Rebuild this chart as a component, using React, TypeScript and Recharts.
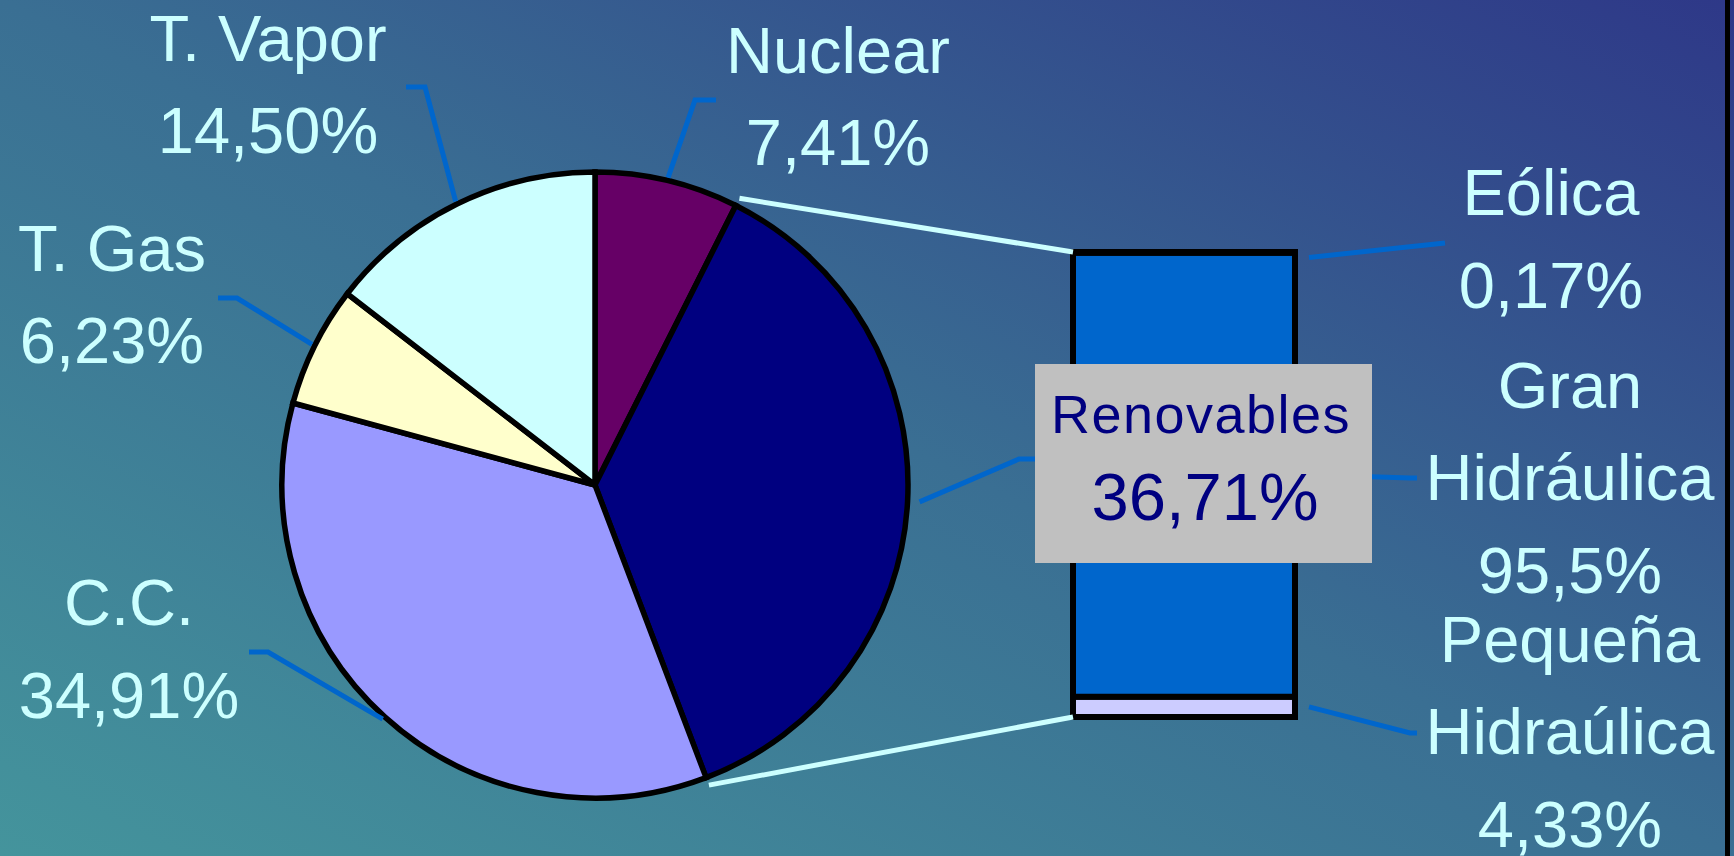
import React from 'react';
import { PieChart, Pie, Cell, BarChart, Bar, XAxis, YAxis, LabelList } from 'recharts';

const W = 1734;
const H = 856;

// pie: generation mix
const pieNames = ['Nuclear', 'Renovables', 'C.C.', 'T. Gas', 'T. Vapor'];
const pieValues = [7.41, 36.71, 34.91, 6.23, 14.5];
const pieLabels = ['7,41%', '36,71%', '34,91%', '6,23%', '14,50%'];
const pieColors = ['#660066', '#000080', '#9999FF', '#FFFFCC', '#CCFFFF'];

// bar: breakdown of renewables (bottom to top)
const barKeys = ['peq', 'gran', 'eol'];
const barNames = [['Pequeña', 'Hidraúlica'], ['Gran', 'Hidráulica'], ['Eólica']];
const barValues = [4.33, 95.5, 0.17];
const barLabels = ['4,33%', '95,5%', '0,17%'];
const barColors = ['#CCCCFF', '#0066CC', '#99CCFF'];

const pieData = pieNames.map((name, i) => ({ name, value: pieValues[i] }));
const barRow: Record<string, number | string> = { name: 'Renovables' };
barKeys.forEach((k, i) => { barRow[k] = barValues[i]; });
const barData = [barRow];

// layout
const CX = 595;
const CY = 485;
const R = 313;
const BAR = { left: 1073, top: 252, width: 222, height: 465 };

const FONT = '"Liberation Sans", Arial, sans-serif';
const TXT = '#CCFFFF';
const LEADER = '#0066CC';
const FS = 65;

// label placement per pie slice: elbow, tail, text centre x, baselines
const pieLabelPos: Record<string, { elbow: number[]; tail: number[]; tx: number; base: number[]; gap: number }> = {
  'Nuclear':    { elbow: [695, 100], tail: [716, 100], tx: 838, base: [73, 165], gap: 3 },
  'Renovables': { elbow: [1019, 459], tail: [1035, 459], tx: 1203, base: [433, 520], gap: 12 },
  'C.C.':       { elbow: [268, 652], tail: [249, 652], tx: 129, base: [625, 718], gap: 3 },
  'T. Gas':     { elbow: [237, 298], tail: [218, 298], tx: 112, base: [271, 363], gap: 3 },
  'T. Vapor':   { elbow: [425, 87], tail: [406, 87], tx: 268, base: [61, 153], gap: 3 },
};

const barLabelPos: Record<string, { elbow: number[]; tail: number[]; tx: number; base: number[] }> = {
  peq:  { elbow: [1410, 733], tail: [1417, 733], tx: 1570, base: [662, 754, 847] },
  gran: { elbow: [1410, 478], tail: [1417, 478], tx: 1570, base: [408, 500, 593] },
  eol:  { elbow: [1445, 243], tail: [1445, 243], tx: 1551, base: [215, 308] },
};

const RAD = Math.PI / 180;
const polar = (cx: number, cy: number, r: number, a: number) => [cx + r * Math.cos(-a * RAD), cy + r * Math.sin(-a * RAD)];

const total = pieValues.reduce((s, v) => s + v, 0);
const sliceAngles = pieValues.map((_, i) => {
  const before = pieValues.slice(0, i).reduce((s, v) => s + v, 0);
  return { start: 90 - (before / total) * 360, end: 90 - ((before + pieValues[i]) / total) * 360 };
});

function PieLabel(props: any) {
  const { index } = props;
  const cx = props.cx ?? CX;
  const cy = props.cy ?? CY;
  const r = props.outerRadius ?? R;
  const name = pieNames[index];
  const pos = pieLabelPos[name];
  const ang = sliceAngles[index];
  const mid = props.midAngle ?? (ang.start + ang.end) / 2;
  const [sx, sy] = polar(cx, cy, r + pos.gap, mid);
  const leader = (
    <polyline
      points={`${sx},${sy} ${pos.elbow[0]},${pos.elbow[1]} ${pos.tail[0]},${pos.tail[1]}`}
      fill="none" stroke={LEADER} strokeWidth={5}
    />
  );

  if (name === 'Renovables') {
    const a0 = props.startAngle ?? ang.start;
    const a1 = props.endAngle ?? ang.end;
    const [x0, y0] = polar(cx, cy, r + 8, a0);
    const [x1, y1] = polar(cx, cy, r + 8, a1);
    return (
      <g>
        <line x1={x0} y1={y0} x2={BAR.left} y2={BAR.top} stroke={TXT} strokeWidth={5} />
        <line x1={x1} y1={y1} x2={BAR.left} y2={BAR.top + BAR.height} stroke={TXT} strokeWidth={5} />
        {leader}
        <rect x={1035} y={364} width={337} height={199} fill="#C0C0C0" />
        <text x={1201} y={pos.base[0]} textAnchor="middle" fill="#000080" fontSize={54} letterSpacing={1.5} fontFamily={FONT}>
          {name}
        </text>
        <text x={1205} y={pos.base[1]} textAnchor="middle" fill="#000080" fontSize={67} fontFamily={FONT}>
          {pieLabels[index]}
        </text>
      </g>
    );
  }

  return (
    <g>
      {leader}
      <text x={pos.tx} y={pos.base[0]} textAnchor="middle" fill={TXT} fontSize={FS} fontFamily={FONT}>{name}</text>
      <text x={pos.tx} y={pos.base[1]} textAnchor="middle" fill={TXT} fontSize={FS} fontFamily={FONT}>{pieLabels[index]}</text>
    </g>
  );
}

function makeBarLabel(si: number) {
  return function BarLabel(props: any) {
    const vb = props.viewBox ?? props;
    const x = props.x ?? vb.x;
    const y = props.y ?? vb.y;
    const w = props.width ?? vb.width;
    const h = props.height ?? vb.height;
    const key = barKeys[si];
    const pos = barLabelPos[key];
    const sx = x + w + 14;
    const sy = key === 'eol' ? y + h / 2 + 5 : y + h / 2;
    const lines = [...barNames[si], barLabels[si]];
    return (
      <g>
        <polyline
          points={`${sx},${sy} ${pos.elbow[0]},${pos.elbow[1]} ${pos.tail[0]},${pos.tail[1]}`}
          fill="none" stroke={LEADER} strokeWidth={5}
        />
        {lines.map((t, i) => (
          <text key={i} x={pos.tx} y={pos.base[i]} textAnchor="middle" fill={TXT} fontSize={FS} fontFamily={FONT}>{t}</text>
        ))}
      </g>
    );
  };
}

export default function App() {
  return (
    <div
      style={{
        position: 'fixed', top: 0, left: 0, width: W, height: H, overflow: 'hidden',
        background: 'linear-gradient(to top right, #44949c 0%, #3a6f93 50%, #2e3888 100%)',
      }}
    >
      <div style={{ position: 'absolute', top: 0, left: 0 }}>
        <BarChart
          width={W} height={H} data={barData} barCategoryGap={0}
          margin={{ top: BAR.top, bottom: H - BAR.top - BAR.height, left: BAR.left, right: W - BAR.left - BAR.width }}
        >
          <XAxis dataKey="name" hide />
          <YAxis type="number" domain={[0, 100]} hide />
          {barKeys.map((k, i) => (
            <Bar key={k} dataKey={k} stackId="r" fill={barColors[i]} stroke="#000" strokeWidth={6} isAnimationActive={false}>
              <LabelList dataKey={k} content={makeBarLabel(i)} />
            </Bar>
          ))}
        </BarChart>
      </div>
      <div style={{ position: 'absolute', top: 0, left: 0 }}>
        <PieChart width={W} height={H} margin={{ top: 0, right: 0, bottom: 0, left: 0 }}>
          <Pie
            data={pieData} dataKey="value" nameKey="name" cx={CX} cy={CY} outerRadius={R}
            startAngle={90} endAngle={-270} stroke="#000" strokeWidth={5.5}
            label={PieLabel} labelLine={false} isAnimationActive={false}
          >
            {pieData.map((d, i) => <Cell key={d.name} fill={pieColors[i]} stroke="#000" strokeWidth={5.5} />)}
          </Pie>
        </PieChart>
      </div>
      <div style={{ position: 'absolute', top: 0, left: 1725, width: 5, height: H, background: '#000' }} />
    </div>
  );
}
